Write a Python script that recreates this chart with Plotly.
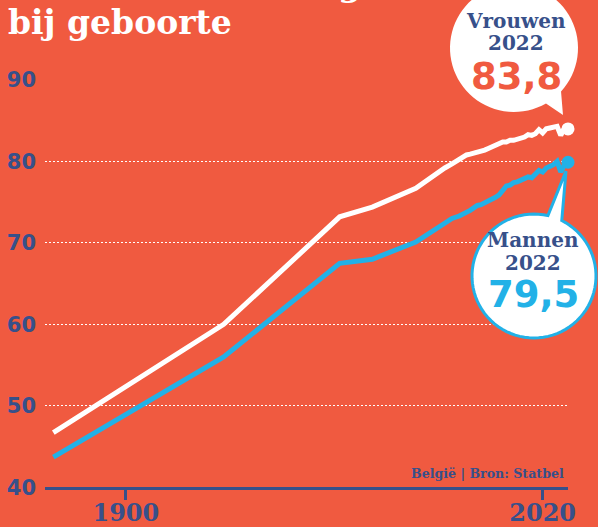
import numpy as np
import plotly.graph_objects as go

# ---------------- data ----------------
years = [1880, 1927, 1959, 1968, 1980, 1985, 1988, 1990, 1992, 1993, 1994, 1995,
         1996, 1997, 1998, 1999, 2000, 2001, 2002, 2003, 2004, 2005, 2006, 2007,
         2008, 2009, 2010, 2011, 2012, 2013, 2014, 2015, 2016, 2017, 2018, 2019,
         2020, 2021, 2022]
vrouwen = [46.7, 60.0, 73.2, 74.4, 76.7, 78.3, 79.2, 79.7, 80.3, 80.5, 80.8, 80.9,
           81.0, 81.2, 81.2, 81.4, 81.6, 81.8, 81.9, 82.1, 82.4, 82.4, 82.6, 82.6,
           82.7, 82.9, 83.0, 83.3, 83.2, 83.4, 83.9, 83.5, 84.0, 84.1, 84.2, 84.3,
           83.2, 84.1, 84.0]
mannen = [43.7, 56.0, 67.5, 68.0, 70.1, 71.6, 72.5, 73.0, 73.3, 73.5, 73.8, 74.0,
          74.3, 74.6, 74.7, 74.9, 75.1, 75.4, 75.6, 75.9, 76.5, 77.0, 77.1, 77.4,
          77.5, 77.7, 77.8, 78.1, 78.0, 78.4, 78.9, 78.7, 79.2, 79.4, 79.6, 80.0,
          78.7, 79.6, 79.9]
y_ticks = [40, 50, 60, 70, 80, 90]
x_tickvals = [1900, 2015]
x_ticktext = ["1900", "2020"]
label_women = ("Vrouwen", "2022", "83,8")
label_men = ("Mannen", "2022", "79,5")

# ---------------- style ----------------
W, H = 598, 527
BG = "#F05A40"
NAVY = "#37508A"
BLUE = "#22B1E7"
WHITE = "#FFFFFF"
SLAB = "DejaVu Serif"
SANS = "DejaVu Sans"


def px(x):
    return x / W


def py(y):
    return 1 - y / H


def bubble_path(cx, cy, r, a_start, a_end, tip):
    angs = np.linspace(np.radians(a_start), np.radians(a_end), 80)
    pts = [(cx + r * np.cos(a), cy + r * np.sin(a)) for a in angs]
    pts.append(tip)
    return "M " + " L ".join(f"{px(x):.5f},{py(y):.5f}" for x, y in pts) + " Z"


fig = go.Figure()
fig.add_trace(go.Scatter(x=years, y=vrouwen, mode="lines",
                         line=dict(color=WHITE, width=5), cliponaxis=False,
                         hoverinfo="skip"))
fig.add_trace(go.Scatter(x=years, y=mannen, mode="lines",
                         line=dict(color=BLUE, width=5), cliponaxis=False,
                         hoverinfo="skip"))
fig.add_trace(go.Scatter(x=[years[-1]], y=[vrouwen[-1]], mode="markers",
                         marker=dict(color=WHITE, size=13), cliponaxis=False))
fig.add_trace(go.Scatter(x=[years[-1]], y=[mannen[-1]], mode="markers",
                         marker=dict(color=BLUE, size=13), cliponaxis=False))

shapes = [
    dict(type="path", xref="paper", yref="paper", layer="above",
         path=bubble_path(514, 48, 64, 60, 42.7 + 360, (563, 115)),
         fillcolor=WHITE, line=dict(width=0)),
    dict(type="path", xref="paper", yref="paper", layer="above",
         path=bubble_path(534, 276, 62, 296.6, 283 + 360, (566, 171)),
         fillcolor=WHITE, line=dict(color=BLUE, width=3)),
]

ann = []
ann.append(dict(text="Levensverwachting", x=px(6), y=py(-15), xref="paper", yref="paper",
                xanchor="left", yanchor="middle", showarrow=False,
                font=dict(family=SLAB, size=33, color=WHITE, weight="bold")))
ann.append(dict(text="bij geboorte", x=px(6), y=py(22), xref="paper", yref="paper",
                xanchor="left", yanchor="middle", showarrow=False,
                font=dict(family=SLAB, size=33, color=WHITE, weight="bold")))
ann.append(dict(text="België | Bron: Statbel", x=px(566), y=py(473), xref="paper", yref="paper",
                xanchor="right", yanchor="middle", showarrow=False,
                font=dict(family=SLAB, size=12.6, color=NAVY, weight="bold")))
for (cx, ys, labels, numcol) in [(516, (21, 43, 76), label_women, BG),
                                 (533, (240, 263, 294), label_men, BLUE)]:
    ann.append(dict(text=labels[0], x=px(cx), y=py(ys[0]), xref="paper", yref="paper",
                    xanchor="center", yanchor="middle", showarrow=False,
                    font=dict(family=SLAB, size=20, color=NAVY, weight="bold")))
    ann.append(dict(text=labels[1], x=px(cx), y=py(ys[1]), xref="paper", yref="paper",
                    xanchor="center", yanchor="middle", showarrow=False,
                    font=dict(family=SLAB, size=20, color=NAVY, weight="bold")))
    ann.append(dict(text=labels[2], x=px(cx), y=py(ys[2]), xref="paper", yref="paper",
                    xanchor="center", yanchor="middle", showarrow=False,
                    font=dict(family=SANS, size=37, color=numcol, weight="bold")))

fig.update_layout(
    width=W, height=H, margin=dict(l=0, r=0, t=0, b=0, autoexpand=False),
    paper_bgcolor=BG, plot_bgcolor=BG, showlegend=False,
    shapes=shapes, annotations=ann,
    xaxis=dict(domain=[px(45), px(568)], range=[1877.7, 2022], automargin=False,
               tickvals=x_tickvals, ticktext=x_ticktext,
               ticks="outside", ticklen=10, tickwidth=2.5, tickcolor=NAVY,
               showline=True, linecolor=NAVY, linewidth=2.5,
               showgrid=False, zeroline=False, ticklabelstandoff=-8,
               tickfont=dict(family=SLAB, size=24, color=NAVY, weight="bold")),
    yaxis=dict(domain=[py(487.3), py(80)], range=[40, 90], automargin=False,
               tickvals=y_ticks, showgrid=True, gridcolor=WHITE, griddash="2px,2px",
               gridwidth=1.2, zeroline=False, showline=False, ticks="",
               ticklabelstandoff=8,
               tickfont=dict(family=SANS, size=21, color=NAVY, weight="bold")),
)

fig.write_html("out.html")
